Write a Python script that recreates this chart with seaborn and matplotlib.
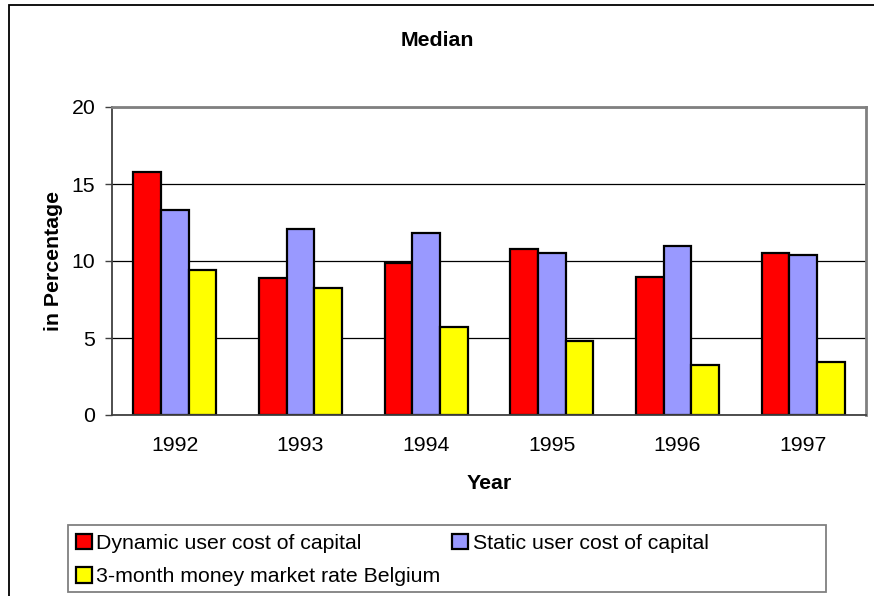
import matplotlib
matplotlib.use("Agg")
import matplotlib.pyplot as plt
import matplotlib.patches as mpatches
import numpy as np
import pandas as pd
import seaborn as sns

years = ["1992", "1993", "1994", "1995", "1996", "1997"]
dynamic = [15.75, 8.9, 9.85, 10.75, 8.95, 10.5]
static = [13.3, 12.05, 11.8, 10.55, 10.95, 10.4]
money = [9.4, 8.25, 5.7, 4.8, 3.25, 3.45]
series_names = ["Dynamic user cost of capital", "Static user cost of capital",
                "3-month money market rate Belgium"]
colors = ["#FF0000", "#9999FF", "#FFFF00"]
yticks = [0, 5, 10, 15, 20]

rows = []
for name, vals in zip(series_names, [dynamic, static, money]):
    for y, v in zip(years, vals):
        rows.append({"Year": y, "Value": v, "Series": name})
df = pd.DataFrame(rows)

sns.set_style("white")
plt.rcParams["font.family"] = ["Liberation Sans", "DejaVu Sans"]
plt.rcParams["text.color"] = "black"
plt.rcParams["axes.labelcolor"] = "black"
plt.rcParams["xtick.labelcolor"] = "black"
plt.rcParams["ytick.labelcolor"] = "black"
FS = 15.3

fig = plt.figure(figsize=(8.74, 5.96), dpi=100)
ax = fig.add_axes([112 / 874, 1 - 415 / 596, (866 - 112) / 874, (415 - 107) / 596])

sns.barplot(data=df, x="Year", y="Value", hue="Series", order=years,
            hue_order=series_names, palette=colors, width=0.663,
            edgecolor="black", linewidth=1.6, saturation=1, ax=ax, errorbar=None)

ax.set_xlim(-0.5, len(years) - 0.5)
ax.set_ylim(0, 20)
ax.set_yticks(yticks)
ax.set_yticklabels([str(t) for t in yticks], fontsize=FS, color="black")
ax.yaxis.grid(True, color="black", linewidth=0.9)
ax.set_axisbelow(True)

ax.set_xticks(range(len(years)))
ax.set_xticklabels(years, fontsize=FS, color="black")
ax.set_xticks(np.arange(-0.5, len(years)), minor=True)
ax.tick_params(axis="x", which="major", length=0, pad=15)
ax.tick_params(axis="x", which="minor", length=4, width=1, color="black", direction="out")
ax.tick_params(axis="y", which="major", length=5, width=1, color="#404040", direction="out",
               pad=7, left=True)

for s in ["top", "right"]:
    ax.spines[s].set_color("#808080")
    ax.spines[s].set_linewidth(2)
ax.spines["left"].set_color("#404040")
ax.spines["left"].set_linewidth(1.3)
ax.spines["bottom"].set_color("#404040")
ax.spines["bottom"].set_linewidth(1.3)

ax.set_xlabel("Year", fontsize=FS, fontweight="bold", labelpad=13.5, color="black")
ax.set_ylabel("in Percentage", fontsize=FS, fontweight="bold", labelpad=6.5, color="black")

fig.text(0.5, 1 - 40 / 596, "Median", fontsize=FS, fontweight="bold", ha="center",
         va="center", color="black")

handles, labels = ax.get_legend_handles_labels()
ax.get_legend().remove()
order = [0, 2, 1]
leg = fig.legend([handles[i] for i in order], [labels[i] for i in order], ncol=2,
                 loc="upper left", bbox_to_anchor=(76 / 874, 1 - 533.5 / 596),
                 fontsize=FS, frameon=False, labelcolor="black",
                 handlelength=0.75, handleheight=0.75, handletextpad=0.2,
                 borderpad=0, labelspacing=0.68, columnspacing=0.56, borderaxespad=0)

frame = mpatches.Rectangle((68 / 874, 1 - 592 / 596), (826 - 68) / 874, (592 - 525) / 596,
                           transform=fig.transFigure, fill=False,
                           edgecolor="#808080", linewidth=1.3, clip_on=False)
fig.patches.append(frame)

border = mpatches.Rectangle((9 / 874, -0.1), 1.2, (1 - 5 / 596) + 0.1,
                            transform=fig.transFigure, fill=False,
                            edgecolor="black", linewidth=1.3, clip_on=False)
fig.patches.append(border)

fig.savefig("out.png", dpi=100)
